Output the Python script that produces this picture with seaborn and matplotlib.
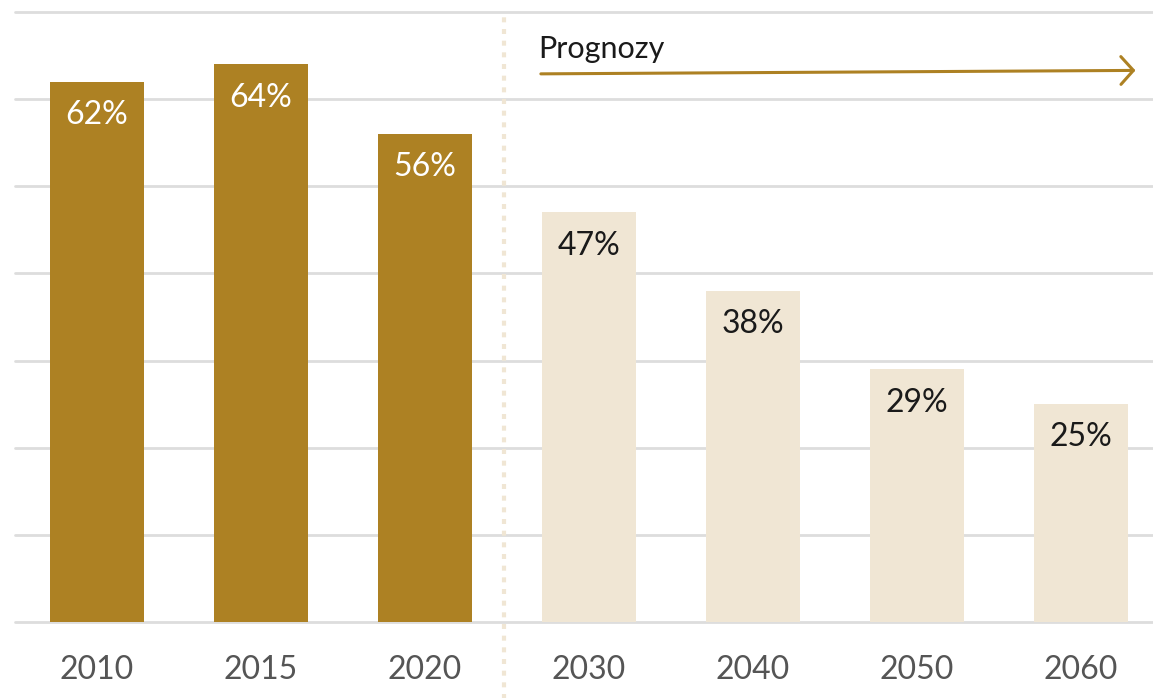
import pandas as pd
import numpy as np
import matplotlib.pyplot as plt
import seaborn as sns

sns.set_style("white")
plt.rcParams['font.family'] = ['Lato', 'DejaVu Sans']

# Data
years  = ['2010', '2015', '2020', '2030', '2040', '2050', '2060']
values = [62, 64, 56, 47, 38, 29, 25]
forecast = [False, False, False, True, True, True, True]

GOLD  = '#ad8123'
BEIGE = '#f0e6d4'

df = pd.DataFrame({'year': years, 'value': values})
colors = [BEIGE if f else GOLD for f in forecast]

fig = plt.figure(figsize=(11.53, 6.98), dpi=100)
ax = fig.add_axes([15/1153, 76/698, 1 - 15/1153, (622-12)/698])

sns.barplot(data=df, x='year', y='value', hue='year', palette=colors,
            legend=False, width=0.573, saturation=1, linewidth=0, ax=ax)

ax.set_ylim(0, 70)
ax.set_xlim(-0.5, 6.44)
ax.set_yticks(np.arange(0, 71, 10))
ax.yaxis.grid(True, color='#dddddd', linewidth=2)
for gl in ax.get_ygridlines():
    gl.set_clip_on(False)
ax.set_axisbelow(True)
for s in ax.spines.values():
    s.set_visible(False)
ax.tick_params(axis='y', left=False, labelleft=False)
ax.tick_params(axis='x', bottom=False, pad=20, labelsize=23, labelcolor='#555555')
ax.set_xlabel('')
ax.set_ylabel('')

# value labels inside bars
for i, (v, f) in enumerate(zip(values, forecast)):
    ax.annotate(f'{v}%', xy=(i, v), xytext=(0, -24), textcoords='offset points',
                ha='center', va='center', fontsize=23,
                color='#1a1a1a' if f else 'white')

# divider between history and forecast
ax.axvline(2.482, ymin=-0.2, ymax=0.995, color=BEIGE, linewidth=3,
           linestyle=(0, (1.2, 1.6)), clip_on=False)

# forecast arrow
ax.annotate('', xy=(6.35, 63.3), xytext=(2.69, 62.9),
            arrowprops=dict(arrowstyle='->,head_length=0.9,head_width=1.0',
                            color=GOLD, lw=2.2))
ax.text(2.69, 64.2, 'Prognozy', fontsize=22, color='#1a1a1a',
        ha='left', va='bottom')

plt.savefig('out.png', dpi=100)
